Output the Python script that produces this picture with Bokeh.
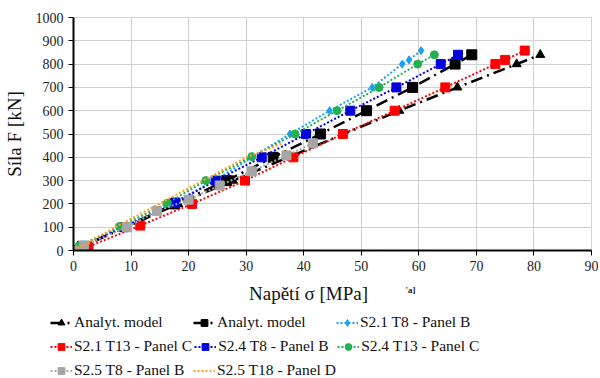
from bokeh.plotting import figure
from bokeh.models import Legend, LegendItem, Label, FixedTicker, Range1d
from bokeh.layouts import column
from bokeh.embed import file_html
from bokeh.resources import INLINE

# Data (stress sigma [MPa], force F [kN])
an_tri_x = [0, 18.2, 27.7, 56.6, 66.7, 77.0, 81.1]
an_tri_y = [0, 200, 300, 600, 700, 800, 840]

an_sq_x = [0, 17.6, 26.6, 34.7, 42.9, 50.9, 58.9, 66.3, 69.2]
an_sq_y = [0, 200, 300, 400, 500, 600, 700, 800, 840]

s21t8_x = [0, 1.0, 8.5, 17.0, 24.5, 31.0, 37.6, 44.5, 51.9, 57.1, 58.3, 60.4]
s21t8_y = [0, 20, 100, 200, 300, 400, 500, 600, 700, 800, 818, 858]

s21t13_x = [0, 2.6, 11.6, 20.6, 29.8, 38.2, 46.8, 55.8, 64.6, 73.3, 75.0, 78.4]
s21t13_y = [0, 17, 107, 200, 300, 400, 500, 600, 700, 800, 818, 858]

s24t8_x = [0, 1.5, 8.8, 17.7, 24.7, 32.7, 40.4, 48.1, 56.1, 63.8, 66.8]
s24t8_y = [0, 20, 100, 206, 300, 400, 500, 600, 700, 800, 840]

s24t13_x = [0, 1.0, 8.0, 16.3, 23.0, 31.0, 38.5, 45.8, 53.1, 59.8, 62.7]
s24t13_y = [0, 20, 103, 203, 300, 403, 500, 600, 700, 800, 840]

s25t8_x = [0, 1.8, 9.3, 14.5, 20.0, 25.4, 31.0, 37.0, 41.6]
s25t8_y = [0, 21, 100, 169, 218, 279, 340, 408, 460]

s25t18_x = [0, 8.0, 16.0, 24.0, 30.0, 36.2]
s25t18_y = [0, 110, 215, 320, 400, 458]

x_ticks = list(range(0, 100, 10))
y_ticks = list(range(0, 1100, 100))

x_title = "Napětí σ [MPa]"
y_title = "Síla F [kN]"

FONT = '"Liberation Serif", serif'
NAN = [float("nan")]

# ---------- main plot ----------
p = figure(frame_width=518, frame_height=233, x_range=(0, 90), y_range=(0, 1000),
           output_backend="svg", toolbar_location=None, frame_align=False,
           min_border_left=65, min_border_right=7, min_border_top=17,
           min_border_bottom=28)

p.xaxis.ticker = FixedTicker(ticks=x_ticks)
p.yaxis.ticker = FixedTicker(ticks=y_ticks)
for ax in (p.xaxis, p.yaxis):
    ax.major_label_text_font = FONT
    ax.major_label_text_font_size = "14px"
    ax.major_label_text_color = "#222222"
    ax.axis_label_text_font = FONT
    ax.axis_label_text_font_size = "19px"
    ax.axis_label_text_font_style = "normal"
    ax.axis_label_text_color = "#111111"
    ax.axis_line_width = 2
    ax.axis_line_color = "black"
    ax.major_tick_out = 5
    ax.major_tick_in = 0
    ax.major_tick_line_color = "black"
    ax.minor_tick_line_color = None
p.yaxis.axis_label = y_title
p.yaxis.axis_label_standoff = 8

p.xgrid.grid_line_color = "#d0d0d0"
p.ygrid.grid_line_color = "#d0d0d0"
p.outline_line_color = "#c8d6e8"

# ---------- bottom strip: x title + legend ----------
q = figure(width=590, height=100, x_range=Range1d(0, 590), y_range=Range1d(0, 100),
           output_backend="svg", toolbar_location=None, frame_align=False,
           x_axis_location=None, y_axis_location=None,
           min_border_left=0, min_border_right=0, min_border_top=0, min_border_bottom=0)
q.grid.visible = False
q.outline_line_color = None

items = []

def series(xs, ys, color, dash, lw, marker, size, label):
    p.line(xs, ys, line_color=color, line_dash=dash, line_width=lw)
    if marker is not None:
        p.scatter(xs, ys, marker=marker, size=size, fill_color=color, line_color=color)
    # legend proxies (NaN, nothing drawn) in the bottom strip
    rs = [q.line(NAN, NAN, line_color=color, line_dash=dash, line_width=lw)]
    if marker is not None:
        rs.append(q.scatter(NAN, NAN, marker=marker, size=size, fill_color=color,
                            line_color=color))
    items.append(LegendItem(label=label, renderers=rs))

series(an_tri_x, an_tri_y, "black", "12 5 2 5", 2.5, "triangle", 9, "Analyt. model")
series(an_sq_x, an_sq_y, "black", "12 5 2 5", 2.5, "square", 10, "Analyt. model")
series(s21t8_x, s21t8_y, "#1aa0f0", "2 2", 2, "diamond", 8, "S2.1 T8 - Panel B")
series(s21t13_x, s21t13_y, "#ff0000", "2 2", 2, "square", 9, "S2.1 T13 - Panel C")
series(s24t8_x, s24t8_y, "#0000dd", "2 2", 2, "square", 9, "S2.4 T8 - Panel B")
series(s24t13_x, s24t13_y, "#22b050", "2 2", 2, "circle", 8, "S2.4 T13 - Panel C")
series(s25t8_x, s25t8_y, "#a6a6a6", "2 2", 2, "square", 9, "S2.5 T8 - Panel B")
series(s25t18_x, s25t18_y, "#ffa020", "2 2", 2, None, 0, "S2.5 T18 - Panel D")

for k in range(3):
    lg = Legend(items=items[3 * k:3 * k + 3], orientation="horizontal",
                location=(50, 47 - 24 * k),
                label_text_font=FONT, label_text_font_size="15.5px",
                label_text_color="#111111",
                glyph_width=22, glyph_height=17, label_standoff=2,
                label_width=117, label_height=17,
                spacing=2, padding=3, margin=0,
                border_line_color=None, background_fill_alpha=0)
    q.add_layout(lg)

q.add_layout(Label(x=308, y=85, text=x_title, text_align="center",
                   text_baseline="middle", text_font=FONT, text_font_size="19px",
                   text_color="#111111"))
q.add_layout(Label(x=405, y=89, text="'a]", text_align="left",
                   text_baseline="middle", text_font=FONT, text_font_size="9px",
                   text_font_style="bold", text_color="#222222"))

layout = column(p, q, spacing=0)
open("out.html", "w").write(file_html(layout, INLINE))
